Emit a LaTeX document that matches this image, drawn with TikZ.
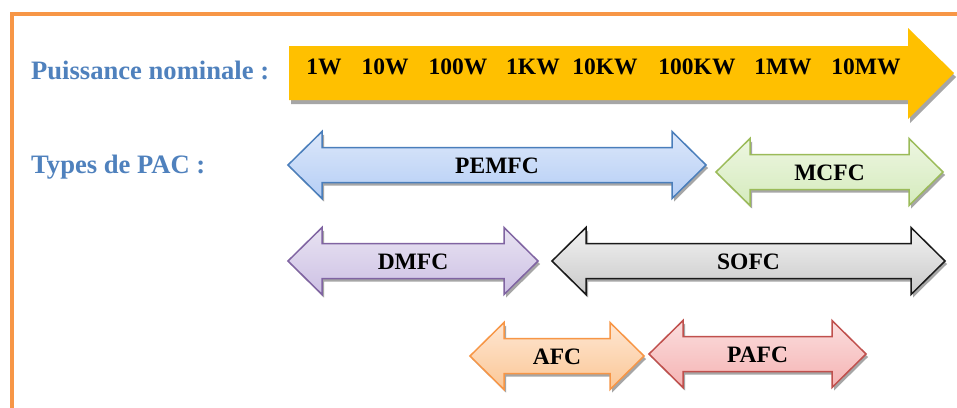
\documentclass[tikz,border=0pt]{standalone}
\usepackage{fontspec}
\setmainfont{Liberation Serif}
\definecolor{frameor}{HTML}{F79646}
\definecolor{labblue}{HTML}{4F81BD}
\definecolor{bigor}{HTML}{FFC000}
\definecolor{shad}{HTML}{A6A6A6}
\definecolor{peT}{HTML}{DCE7FA}\definecolor{peB}{HTML}{B5CEF5}\definecolor{peD}{HTML}{4A7EBB}
\definecolor{mcT}{HTML}{EDF6E1}\definecolor{mcB}{HTML}{D5EBBD}\definecolor{mcD}{HTML}{9BBB59}
\definecolor{dmT}{HTML}{E8E3F2}\definecolor{dmB}{HTML}{CDC0E4}\definecolor{dmD}{HTML}{8064A2}
\definecolor{soT}{HTML}{F2F2F2}\definecolor{soB}{HTML}{C9C9C9}\definecolor{soD}{HTML}{1A1A1A}
\definecolor{afT}{HTML}{FEE6D2}\definecolor{afB}{HTML}{FBC796}\definecolor{afD}{HTML}{F79646}
\definecolor{paT}{HTML}{FBDEDE}\definecolor{paB}{HTML}{F5B3B3}\definecolor{paD}{HTML}{C0504D}
\newcommand\dblpath[3]{({#1},{#3}) -- ({#1+34},{#3-33.5}) -- ({#1+34},{#3-17.5}) -- ({#2-34},{#3-17.5}) -- ({#2-34},{#3-33.5}) -- ({#2},{#3}) -- ({#2-34},{#3+33.5}) -- ({#2-34},{#3+17.5}) -- ({#1+34},{#3+17.5}) -- ({#1+34},{#3+33.5}) -- cycle}
% #1 name #2 x1 #3 x2 #4 yc #5 top #6 bottom #7 draw #8 text
\newcommand\dblarrow[8]{%
  \fill[shad, shift={(2,3)}] \dblpath{#2}{#3}{#4};
  \draw[line width=1.5pt, draw=#7, top color=#5, bottom color=#6, line join=miter] \dblpath{#2}{#3}{#4};
  \node[arrtext] (#1) at ({(#2+#3)/2},{#4+8}) {#8};
}
\tikzset{
  arrtext/.style={anchor=base, inner sep=0pt, font=\fontsize{23.5}{28}\selectfont\bfseries, text=black},
  labtext/.style={anchor=base west, inner sep=0pt, font=\fontsize{26.6}{30}\selectfont\bfseries, text=labblue},
  frameline/.style={draw=frameor, line width=4.5pt}
}
\begin{document}
\begin{tikzpicture}[x=1pt,y=-1pt]
\useasboundingbox (0,0) rectangle (957,407);
\fill[white] (0,0) rectangle (957,407);
% frame
\coordinate (fbl) at (12,409);
\coordinate (ftl) at (12,14);
\coordinate (ftr) at (959,14);
\draw[frameline] (fbl) -- (ftl) -- (ftr);
% labels
\node[labtext] (lp) at (31,79) {Puissance nominale :};
\node[labtext] (lt) at (31,173) {Types de PAC :};
% big arrow
\fill[shad, shift={(2,4)}] (289,46) -- (908,46) -- (908,28) -- (954,73) -- (908,119) -- (908,100) -- (289,100) -- cycle;
\fill[bigor] (289,46) -- (908,46) -- (908,28) -- (954,73) -- (908,119) -- (908,100) -- (289,100) -- cycle;
\node[arrtext] (p1) at (324,74) {1W};
\node[arrtext] (p2) at (385,74) {10W};
\node[arrtext] (p3) at (458,74) {100W};
\node[arrtext] (p4) at (533,74) {1KW};
\node[arrtext] (p5) at (605,74) {10KW};
\node[arrtext] (p6) at (697,74) {100KW};
\node[arrtext] (p7) at (783,74) {1MW};
\node[arrtext] (p8) at (866,74) {10MW};
% types
\dblarrow{pemfc}{288}{706}{165}{peT}{peB}{peD}{PEMFC}
\dblarrow{mcfc}{716}{943}{172}{mcT}{mcB}{mcD}{MCFC}
\dblarrow{dmfc}{288}{538}{261}{dmT}{dmB}{dmD}{DMFC}
\dblarrow{sofc}{552}{945}{261}{soT}{soB}{soD}{SOFC}
\dblarrow{afc}{470}{644}{356}{afT}{afB}{afD}{AFC}
\dblarrow{pafc}{649}{866}{354}{paT}{paB}{paD}{PAFC}
\end{tikzpicture}
\end{document}
